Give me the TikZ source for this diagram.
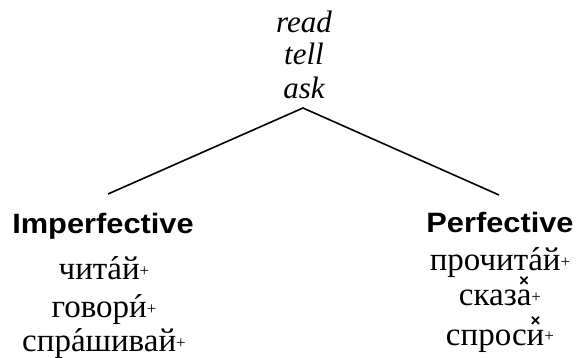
\documentclass[tikz,border=0pt]{standalone}
\usepackage{fontspec}
\setmainfont{Liberation Serif}
\newfontfamily\headfont{Liberation Sans}
% small raised plus sign that closes each stem
\newcommand\pl{\raisebox{3pt}{\fontsize{17}{17}\selectfont +}}
% stressed letter: acute set over the letter
\newcommand\acc[1]{\ooalign{#1\cr\hidewidth\char"00B4\hidewidth\cr}}
% letter with a small cross set above it
\newcommand\xmk[1]{\ooalign{#1\cr\hidewidth\raisebox{19pt}{\headfont\bfseries\fontsize{17}{17}\selectfont ×}\hidewidth\cr}}
\tikzset{
  gloss/.style={anchor=base, inner sep=0pt, font=\fontsize{31}{31}\selectfont\itshape},
  aspect/.style={anchor=base, inner sep=0pt, font=\headfont\bfseries\fontsize{28}{28}\selectfont},
  stem/.style={anchor=base, inner sep=0pt, font=\fontsize{33}{33}\selectfont},
  branch/.style={line width=1.6pt}
}
\begin{document}
\begin{tikzpicture}[x=1pt,y=-1pt]
\useasboundingbox (0,0) rectangle (579,358);
% English glosses
\node[gloss] (read) at (304,33) {read};
\node[gloss] (tell) at (304,65) {tell};
\node[gloss] (ask)  at (304,99) {ask};
% the two branches
\coordinate (apex) at (303,108);
\coordinate (lend) at (108,194);
\coordinate (rend) at (499,195);
\draw[branch] (lend) -- (apex) -- (rend);
% aspect headings
\node[aspect] (imp) at (103,234) {\scalebox{1.1}[1]{Imperfective}};
\node[aspect] (pf)  at (500,233) {\scalebox{1.1}[1]{Perfective}};
% imperfective stems
\node[stem] (chitaj)   at (104,280) {чит\acc{а}й\pl};
\node[stem] (govori)   at (104,318) {говор\acc{и}\pl};
\node[stem] (sprashiv) at (104,352) {спр\acc{а}шивай\pl};
% perfective stems
\node[stem] (prochitaj) at (500,271) {прочит\acc{а}й\pl};
\node[stem] (skaza)     at (500,306) {сказ\xmk{а}\pl};
\node[stem] (sprosi)    at (500,345) {спрос\xmk{и}\pl};
\end{tikzpicture}
\end{document}
